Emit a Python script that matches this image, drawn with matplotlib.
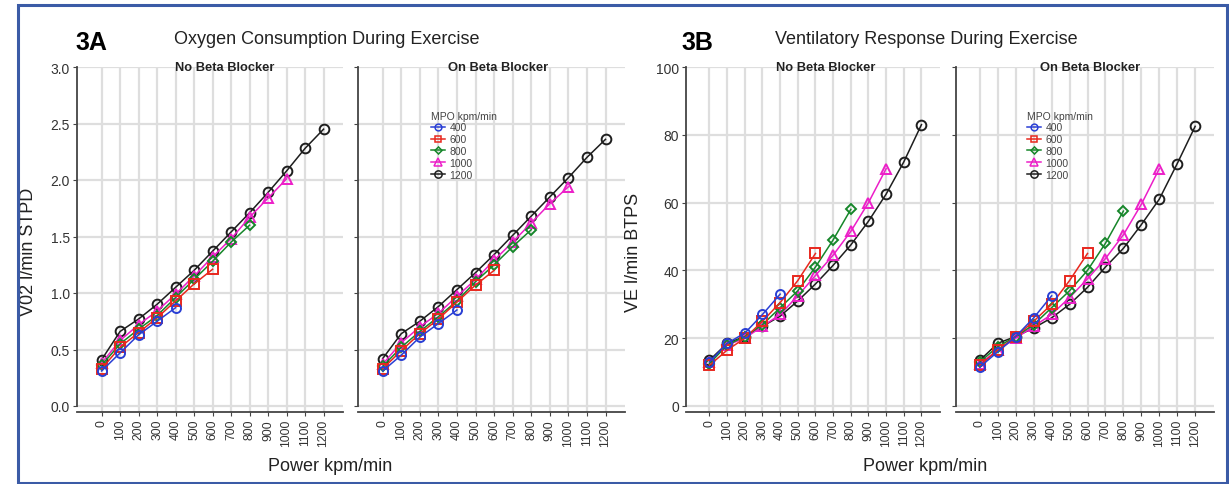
import matplotlib.pyplot as plt
from matplotlib.lines import Line2D
from matplotlib.patches import Rectangle

# power steps (kpm/min)
power = [0, 100, 200, 300, 400, 500, 600, 700, 800, 900, 1000, 1100, 1200]
mpo_groups = ['400', '600', '800', '1000', '1200']

# VO2 l/min STPD, no beta blocker
vo2_no_400 = [0.31, 0.47, 0.63, 0.75, 0.87]
vo2_no_600 = [0.33, 0.52, 0.65, 0.78, 0.93, 1.08, 1.21]
vo2_no_800 = [0.36, 0.55, 0.68, 0.80, 0.96, 1.12, 1.28, 1.45, 1.60]
vo2_no_1000 = [0.38, 0.58, 0.72, 0.84, 0.99, 1.15, 1.32, 1.48, 1.67, 1.84, 2.01]
vo2_no_1200 = [0.41, 0.66, 0.77, 0.90, 1.05, 1.20, 1.37, 1.54, 1.71, 1.89, 2.08, 2.28, 2.45]

# VO2 l/min STPD, on beta blocker
vo2_on_400 = [0.31, 0.45, 0.61, 0.73, 0.85]
vo2_on_600 = [0.33, 0.49, 0.64, 0.77, 0.92, 1.07, 1.20]
vo2_on_800 = [0.35, 0.52, 0.66, 0.79, 0.93, 1.10, 1.25, 1.41, 1.56]
vo2_on_1000 = [0.37, 0.56, 0.70, 0.82, 0.97, 1.12, 1.29, 1.45, 1.62, 1.79, 1.94]
vo2_on_1200 = [0.42, 0.64, 0.75, 0.88, 1.03, 1.18, 1.34, 1.51, 1.68, 1.85, 2.02, 2.20, 2.36]

# VE l/min BTPS, no beta blocker
ve_no_400 = [13, 18.5, 21.5, 27, 33]
ve_no_600 = [12, 16.5, 20, 25, 30.5, 37, 45]
ve_no_800 = [12.5, 18, 20.5, 24, 29, 34, 41, 49, 58]
ve_no_1000 = [13, 18, 20, 23.5, 27, 32.5, 38.5, 44.5, 51.5, 60, 70]
ve_no_1200 = [13.5, 18.5, 20.5, 23.5, 26.5, 31, 36, 41.5, 47.5, 54.5, 62.5, 72, 83]

# VE l/min BTPS, on beta blocker
ve_on_400 = [11.5, 16, 20.5, 26, 32.5]
ve_on_600 = [12, 16.5, 20.5, 25, 30, 37, 45]
ve_on_800 = [13, 17.5, 20.5, 24, 29, 34, 40, 48, 57.5]
ve_on_1000 = [12.5, 16.5, 20, 23.5, 27, 32, 37.5, 43.5, 50.5, 59.5, 70]
ve_on_1200 = [13.5, 18.5, 20.5, 23, 26, 30, 35, 41, 46.5, 53.5, 61, 71.5, 82.5]

colors = ['#2a3fd4', '#e8281e', '#16862a', '#ec1fc8', '#1e1e1e']
markers = ['o', 's', 'D', '^', 'o']
msizes = [6.5, 6.5, 4.8, 7, 7]

W, H = 1229, 485
fig = plt.figure(figsize=(W / 100, H / 100), dpi=100)
plt.rcParams['font.family'] = ['Liberation Sans', 'DejaVu Sans']


def px_axes(x0, x1, y0, y1):
    return fig.add_axes([x0 / W, 1 - y1 / H, (x1 - x0) / W, (y1 - y0) / H])


def draw_panel(ax, series, ymax, ystep, ybottom, show_ylabels, legend):
    for i, vals in enumerate(series):
        ax.plot(power[:len(vals)], vals, color=colors[i], lw=1.1, marker=markers[i],
                ms=msizes[i], mfc='none', mec=colors[i], mew=1.4, zorder=3 + (4 - i))
    ax.set_xlim(-133, 1305)
    ax.set_ylim(ybottom, ymax)
    ax.set_xticks(power)
    ax.set_xticklabels([str(p) for p in power], rotation=90, fontsize=8.7, color='#333333')
    yt = [round(k * ystep, 2) for k in range(int(round(ymax / ystep)) + 1)]
    ax.set_yticks(yt)
    if show_ylabels:
        if ystep < 1:
            ax.set_yticklabels(['%.1f' % v for v in yt], fontsize=10, color='#333333')
        else:
            ax.set_yticklabels(['%d' % v for v in yt], fontsize=10, color='#333333')
    else:
        ax.set_yticklabels([])
    ax.grid(True, color='#dedede', lw=1.6)
    ax.set_axisbelow(True)
    for s in ['top', 'right']:
        ax.spines[s].set_visible(False)
    ax.spines['left'].set_bounds(0, ymax)
    ax.spines['left'].set_color('#444444')
    ax.spines['bottom'].set_color('#444444')
    ax.spines['left'].set_linewidth(1.3)
    ax.spines['bottom'].set_linewidth(1.3)
    ax.tick_params(axis='both', length=3, color='#444444', pad=2)
    ax.patch.set_alpha(0)
    if legend:
        handles = [Line2D([0], [0], color=colors[i], lw=1.1, marker=markers[i],
                          ms=msizes[i] * 0.75, mfc='none', mec=colors[i], mew=1.1)
                   for i in range(5)]
        leg = ax.legend(handles, mpo_groups, title='MPO kpm/min', loc='upper left',
                        bbox_to_anchor=(0.245, 0.895), frameon=False, fontsize=7.5,
                        title_fontsize=7.5, handlelength=1.4, handletextpad=0.4,
                        labelspacing=0.18, borderpad=0.2)
        leg._legend_box.align = 'left'
        for t in leg.get_texts():
            t.set_color('#444444')
        leg.get_title().set_color('#444444')


# panel 3A
ax1 = px_axes(77, 343, 68, 413)
ax2 = px_axes(358, 625, 68, 413)
yb_a = -6 / 113.0
draw_panel(ax1, [vo2_no_400, vo2_no_600, vo2_no_800, vo2_no_1000, vo2_no_1200],
           3.0, 0.5, yb_a, True, False)
draw_panel(ax2, [vo2_on_400, vo2_on_600, vo2_on_800, vo2_on_1000, vo2_on_1200],
           3.0, 0.5, yb_a, False, True)
ax1.set_ylabel('V02 l/min STPD', fontsize=13, color='#222222')
ax1.yaxis.set_label_coords((37 - 77) / 266, (413 - 252) / 345)

# panel 3B
ax3 = px_axes(686, 940, 68, 413)
ax4 = px_axes(956, 1214, 68, 413)
yb_b = -6 * 100 / 339.0
draw_panel(ax3, [ve_no_400, ve_no_600, ve_no_800, ve_no_1000, ve_no_1200],
           100, 20, yb_b, True, False)
draw_panel(ax4, [ve_on_400, ve_on_600, ve_on_800, ve_on_1000, ve_on_1200],
           100, 20, yb_b, False, True)
ax3.set_ylabel('VE l/min BTPS', fontsize=13, color='#222222')
ax3.yaxis.set_label_coords((642 - 686) / 254, (413 - 252) / 345)

# subplot titles
sub_titles = [(225, 'No Beta Blocker'), (498, 'On Beta Blocker'),
              (826, 'No Beta Blocker'), (1090, 'On Beta Blocker')]
for xc, txt in sub_titles:
    fig.text(xc / W, 1 - 68 / H, txt, fontsize=9.3, fontweight='bold',
             ha='center', va='center', color='#222222')

# titles and shared x labels
fig.text(75 / W, 1 - 43 / H, '3A', fontsize=18, fontweight='bold', va='center', ha='left')
fig.text(174 / W, 1 - 40 / H, 'Oxygen Consumption During Exercise', fontsize=13,
         va='center', ha='left', color='#222222')
fig.text(681 / W, 1 - 43 / H, '3B', fontsize=18, fontweight='bold', va='center', ha='left')
fig.text(775 / W, 1 - 40 / H, 'Ventilatory Response During Exercise', fontsize=13,
         va='center', ha='left', color='#222222')
fig.text(330 / W, 1 - 467 / H, 'Power kpm/min', fontsize=13, ha='center', va='center',
         color='#222222')
fig.text(925 / W, 1 - 467 / H, 'Power kpm/min', fontsize=13, ha='center', va='center',
         color='#222222')

# blue frame
fig.patches.append(Rectangle((18 / W, 1 - 484 / H), 1209 / W, 478 / H,
                             transform=fig.transFigure, fill=False,
                             edgecolor='#3b5ba6', lw=2.2))

fig.savefig('out.png', dpi=100)
